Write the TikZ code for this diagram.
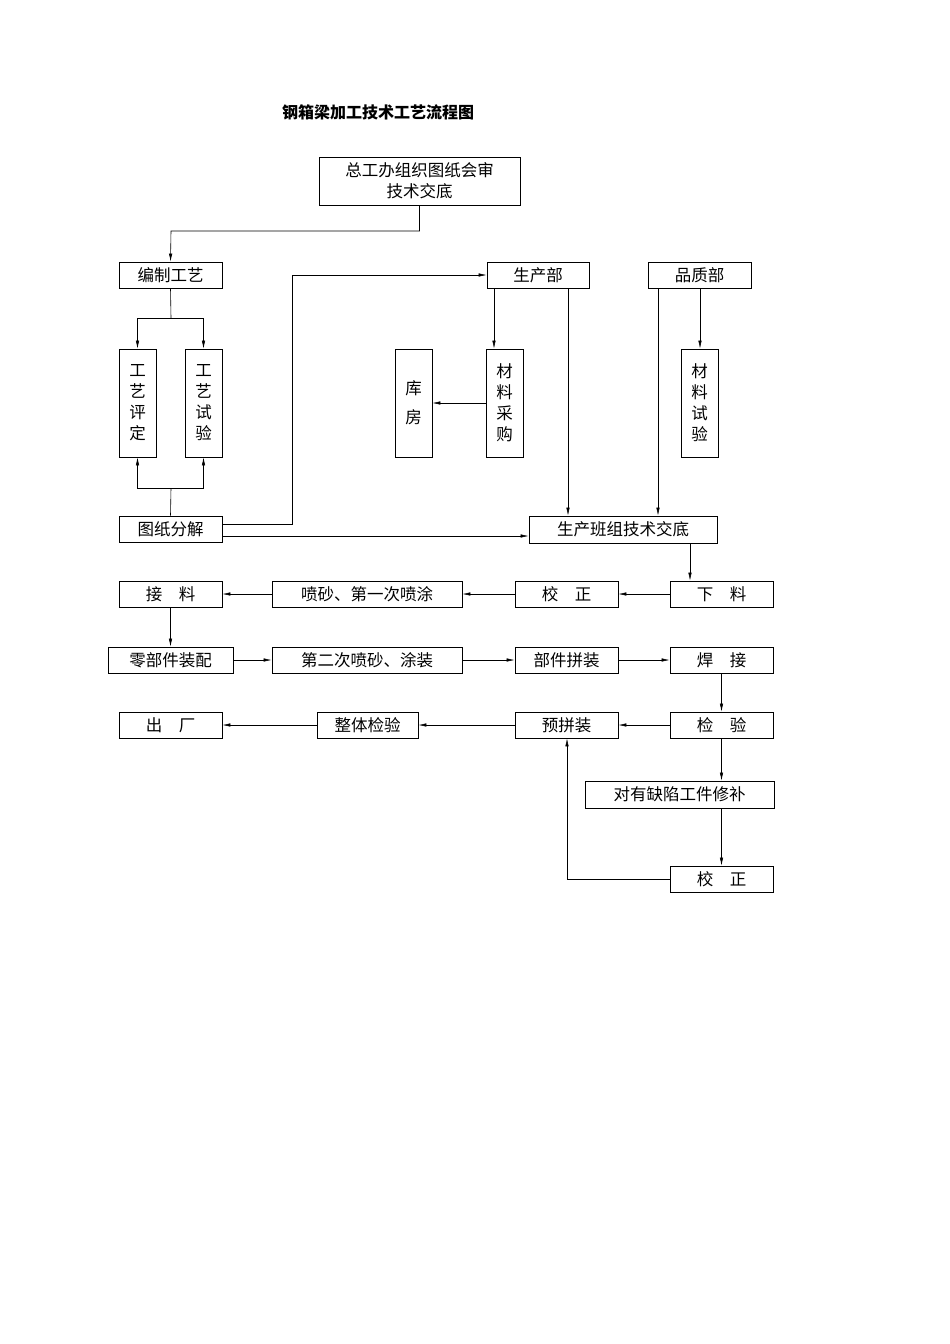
\documentclass[tikz,border=0pt]{standalone}
\usepackage{fontspec}
\newfontfamily\cjk{Noto Sans CJK SC}
\usetikzlibrary{arrows.meta}
\begin{document}
\begin{tikzpicture}[x=1pt,y=-1pt,
  bx/.style={draw,line width=0.8pt,inner sep=0pt,font=\cjk\fontsize{16.5}{21}\selectfont,align=center},
  ar/.style={-{Latex[length=8pt,width=3.5pt]},line width=0.6pt},
  ln/.style={line width=0.6pt}]
\useasboundingbox (0,0) rectangle (950,1344);
\node[font=\cjk\bfseries\fontsize{16}{18}\selectfont] (t) at (378,112) {钢箱梁加工技术工艺流程图};
\newcommand\bxx[6]{\node[bx,minimum width=#3-#2,minimum height=#5-#4] (#1) at ({(#2+#3)/2},{(#4+#5)/2}) {#6};}
\bxx{A}{319}{520}{157}{205}{总工办组织图纸会审\\技术交底}
\bxx{B}{119}{222}{262}{288}{编制工艺}
\bxx{C}{487}{589}{262}{288}{生产部}
\bxx{D}{648}{751}{262}{288}{品质部}
\bxx{E1}{119}{156}{349}{457}{工\\艺\\评\\定}
\bxx{E2}{185}{222}{349}{457}{工\\艺\\试\\验}
\bxx{K}{395}{432}{349}{457}{库\\[8pt]房}
\bxx{M}{486}{523}{349}{457}{材\\料\\采\\购}
\bxx{N}{681}{718}{349}{457}{材\\料\\试\\验}
\bxx{F}{119}{222}{516}{542}{图纸分解}
\bxx{G}{529}{717}{516}{543}{生产班组技术交底}
\bxx{J}{119}{222}{581}{607}{接\quad 料}
\bxx{P}{272}{462}{581}{607}{喷砂、第一次喷涂}
\bxx{Q}{515}{618}{581}{607}{校\quad 正}
\bxx{R}{670}{773}{581}{607}{下\quad 料}
\bxx{S}{108}{233}{647}{673}{零部件装配}
\bxx{T}{272}{462}{647}{673}{第二次喷砂、涂装}
\bxx{U}{515}{618}{647}{673}{部件拼装}
\bxx{V}{670}{773}{647}{673}{焊\quad 接}
\bxx{W}{119}{222}{712}{738}{出\quad 厂}
\bxx{X}{317}{418}{712}{738}{整体检验}
\bxx{Y}{515}{618}{712}{738}{预拼装}
\bxx{Z}{670}{773}{712}{738}{检\quad 验}
\bxx{H}{585}{774}{781}{808}{对有缺陷工件修补}
\bxx{L}{670}{773}{866}{892}{校\quad 正}
% connectors
\draw[ar] (A.south) |- (171,231) -- (B.north);
\draw[ln] (B.south) -- (171,318);
\draw[ar] (171,318) -| (E1.north);
\draw[ar] (171,318) -| (E2.north);
\draw[ln] (F.north) -- (171,488);
\draw[ar] (171,488) -| (E1.south);
\draw[ar] (171,488) -| (E2.south);
\draw[ar] (F.east|-0,524) -- (292,524) |- (C.west);
\draw[ar] (F.east|-0,536) -- (G.west|-0,536);
\draw[ar] (C.south-|494,0) -- (M.north-|494,0);
\draw[ar] (M.west) -- (K.east);
\draw[ar] (C.south-|568,0) -- (G.north-|568,0);
\draw[ar] (D.south-|658,0) -- (G.north-|658,0);
\draw[ar] (D.south-|700,0) -- (N.north-|700,0);
\draw[ar] (G.south-|690,0) -- (R.north-|690,0);
\draw[ar] (R) -- (Q);
\draw[ar] (Q) -- (P);
\draw[ar] (P) -- (J);
\draw[ar] (J) -- (S);
\draw[ar] (S) -- (T);
\draw[ar] (T) -- (U);
\draw[ar] (U) -- (V);
\draw[ar] (V) -- (Z);
\draw[ar] (Z) -- (Y);
\draw[ar] (Y) -- (X);
\draw[ar] (X) -- (W);
\draw[ar] (Z.south) -- (Z.south|-H.north);
\draw[ar] (H.south-|L.north) -- (L.north);
\draw[ar] (L.west) -| (Y.south-|567,0);
\end{tikzpicture}
\end{document}
